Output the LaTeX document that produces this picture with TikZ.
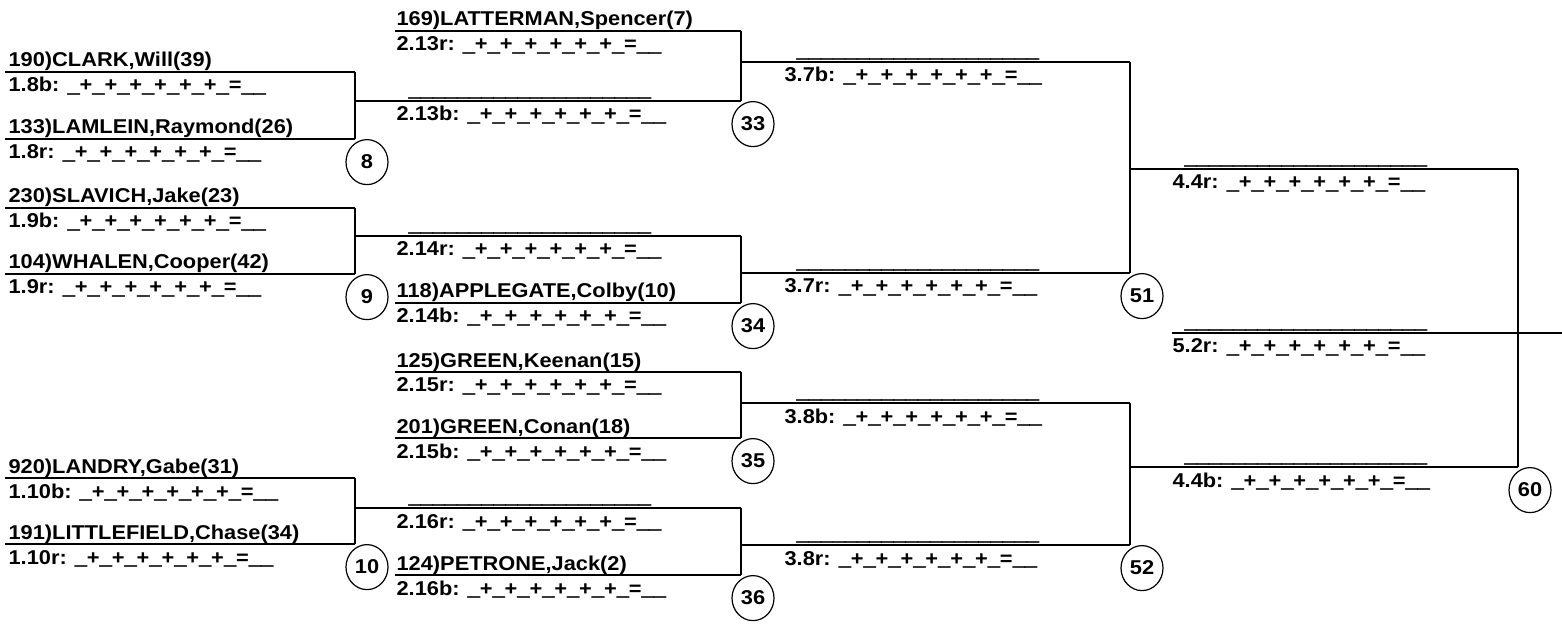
\documentclass[tikz,border=0pt]{standalone}
\usepackage{fontspec}
\setmainfont[FakeStretch=1.09]{Liberation Sans}
\newfontfamily\wrusfont[FakeStretch=1.09,FakeBold=2.5]{Liberation Sans Bold}
\usetikzlibrary{shapes.geometric}
\newcommand{\wrus}{{\wrusfont\_}}
\newcommand{\wrpts}{\wrus+\wrus+\wrus+\wrus+\wrus+\wrus+\wrus=\wrus\wrus}
\newcommand{\wrblank}{\wrus\wrus\wrus\wrus\wrus\wrus\wrus\wrus\wrus\wrus\wrus\wrus\wrus\wrus\wrus\wrus\wrus\wrus\wrus\wrus}
\tikzset{
  wr/.style={anchor=base west, inner sep=0pt, font=\fontsize{10}{12}\selectfont\bfseries},
  bout/.style={draw, ellipse, anchor=north, minimum width=21pt, minimum height=22.5pt,
    inner sep=0pt, font=\fontsize{10}{12}\selectfont\bfseries},
}
\begin{document}
\begin{tikzpicture}[x=0.5pt,y=-0.5pt,line width=0.6pt]
  \useasboundingbox (0,0) rectangle (1562,625);
  % first round
  \foreach \id/\y/\nm/\lb in {
      a/72/{190)CLARK,Will(39)}/1.8b,
      b/139/{133)LAMLEIN,Raymond(26)}/1.8r,
      c/208/{230)SLAVICH,Jake(23)}/1.9b,
      d/274/{104)WHALEN,Cooper(42)}/1.9r,
      e/478/{920)LANDRY,Gabe(31)}/1.10b,
      f/544/{191)LITTLEFIELD,Chase(34)}/1.10r}{
    \coordinate (s\id) at (5,\y);
    \coordinate (e\id) at (355,\y);
    \draw (s\id) -- (e\id);
    \node[wr] (nm\id) at (8,\y-5) {\nm};
    \node[wr] (lb\id) at (8,\y+20) {\lb: \wrpts};
  }
  % second round, seeded wrestlers
  \foreach \id/\y/\nm/\lb in {
      g/31/{169)LATTERMAN,Spencer(7)}/2.13r,
      j/303/{118)APPLEGATE,Colby(10)}/2.14b,
      k/372/{125)GREEN,Keenan(15)}/2.15r,
      l/438/{201)GREEN,Conan(18)}/2.15b,
      n/575/{124)PETRONE,Jack(2)}/2.16b}{
    \coordinate (s\id) at (395,\y);
    \coordinate (e\id) at (741,\y);
    \draw (s\id) -- (e\id);
    \node[wr] (nm\id) at (396,\y-5) {\nm};
    \node[wr] (lb\id) at (396,\y+20) {\lb: \wrpts};
  }
  % winners' lines
  \foreach \id/\xs/\xt/\xe/\y/\lb in {
      h/355/396/741/101/2.13b,
      i/355/396/741/236/2.14r,
      m/355/396/741/508/2.16r,
      o/741/784/1130/62/3.7b,
      p/741/784/1130/273/3.7r,
      q/741/784/1130/403/3.8b,
      r/741/784/1130/545/3.8r,
      t/1130/1172/1518/169/4.4r,
      u/1130/1172/1518/467/4.4b,
      v/1172/1172/1562/333/5.2r}{
    \coordinate (s\id) at (\xs,\y);
    \coordinate (e\id) at (\xe,\y);
    \draw (s\id) -- (e\id);
    \node[wr] (nm\id) at (\xt+12,\y-5) {\wrblank};
    \node[wr] (lb\id) at (\xt,\y+20) {\lb: \wrpts};
  }
  % bouts
  \foreach \top/\bot/\no in {a/b/8, c/d/9, e/f/10, g/h/33, i/j/34,
      k/l/35, m/n/36, o/p/51, q/r/52, t/u/60}{
    \draw (e\top) -- (e\bot);
    \node[bout] (bt\no) at ([xshift=6pt]e\bot) {\no};
  }
\end{tikzpicture}
\end{document}
